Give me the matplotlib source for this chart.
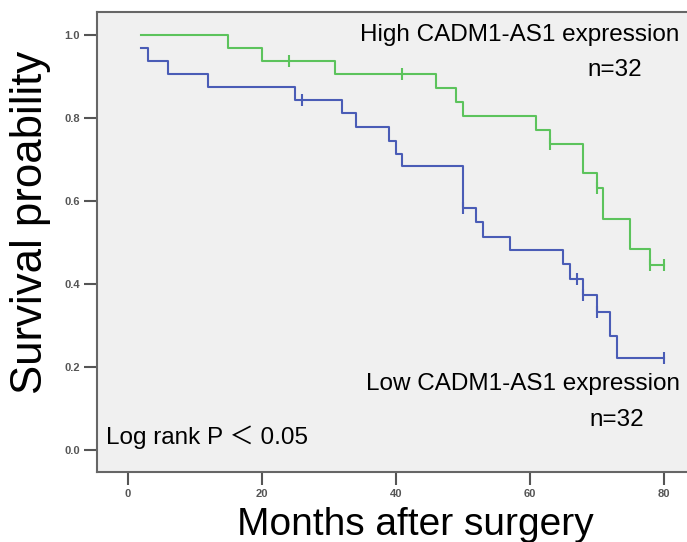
import matplotlib
matplotlib.use("Agg")
import matplotlib.pyplot as plt

# High expression group (step function: time of each step, survival level after step)
high_times = [2, 15, 20, 31, 46, 49, 50, 61, 63, 68, 70, 71, 75, 78, 80]
high_surv = [1.0, 0.969, 0.9375, 0.906, 0.871, 0.839, 0.805, 0.771, 0.737, 0.667, 0.63, 0.557, 0.485, 0.445, 0.445]
high_censor_t = [24, 41, 63, 70, 78, 80]
high_censor_s = [0.9375, 0.906, 0.737, 0.63, 0.445, 0.445]

# Low expression group
low_times = [2, 3, 6, 12, 25, 32, 34, 39, 40, 41, 50, 52, 53, 57, 65, 66, 68, 70, 72, 73, 80]
low_surv = [0.969, 0.9375, 0.906, 0.875, 0.843, 0.811, 0.778, 0.745, 0.713, 0.683, 0.582, 0.55, 0.514, 0.482, 0.447, 0.411, 0.373, 0.332, 0.275, 0.221, 0.221]
low_censor_t = [26, 50, 67, 68, 70, 80]
low_censor_s = [0.843, 0.582, 0.411, 0.373, 0.332, 0.221]

x_ticks = [0, 20, 40, 60, 80]
y_ticks = [0.0, 0.2, 0.4, 0.6, 0.8, 1.0]

green = "#5cc35c"
blue = "#4a5cb6"

fig = plt.figure(figsize=(6.87, 5.42), dpi=100)
ax = fig.add_axes([0.1412, 0.1292, 0.8588, 0.8487])
ax.set_facecolor("#f0f0f0")

ax.step(high_times, high_surv, where="post", color=green, lw=1.5)
ax.step(low_times, low_surv, where="post", color=blue, lw=1.5)
ax.plot(high_censor_t, high_censor_s, ls="none", marker="|", ms=8, mew=1.5, color=green)
ax.plot(low_censor_t, low_censor_s, ls="none", marker="|", ms=8, mew=1.5, color=blue)

ax.set_xlim(-4.6, 83.5)
ax.set_ylim(-0.053, 1.055)
ax.set_xticks(x_ticks)
ax.set_yticks(y_ticks)
ax.set_xticklabels([str(v) for v in x_ticks])
ax.set_yticklabels([f"{v:.1f}" for v in y_ticks])
ax.tick_params(direction="out", length=9.5, width=1.5, color="#555555",
               labelsize=8, labelcolor="#555555", pad=3)
for lab in ax.get_xticklabels() + ax.get_yticklabels():
    lab.set_fontweight("bold")
    lab.set_family("Liberation Sans")

for s in ["left", "bottom", "top"]:
    ax.spines[s].set_color("#666666")
    ax.spines[s].set_linewidth(1.5)
ax.spines["right"].set_visible(False)

tfont = dict(family=["Liberation Sans", "Noto Sans CJK SC"], fontsize=17.5, color="black")
ax.text(82.3, 1.0, "High CADM1-AS1 expression", ha="right", va="center", **tfont)
ax.text(72.7, 0.915, "n=32", ha="center", va="center", **tfont)
ax.text(82.4, 0.16, "Low CADM1-AS1 expression", ha="right", va="center", **tfont)
ax.text(73.0, 0.072, "n=32", ha="center", va="center", **tfont)
ax.text(-3.3, 0.03, "Log rank P ＜ 0.05", ha="left", va="center", **tfont)

fig.text(0.044, 0.59, "Survival proability", rotation=90, ha="center", va="center",
         family="Liberation Sans", fontsize=31.5)
fig.text(0.604, 0.032, "Months after surgery", ha="center", va="center",
         family="Liberation Sans", fontsize=28)

fig.savefig("out.png", dpi=100)
